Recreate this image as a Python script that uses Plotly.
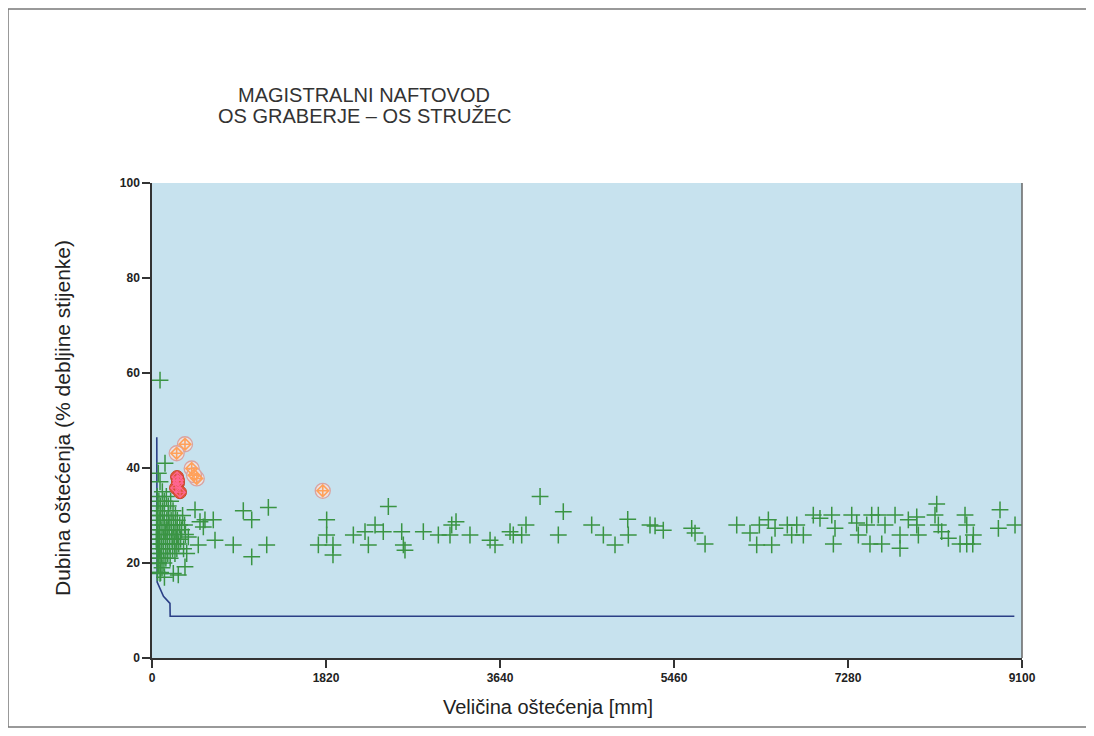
import plotly.graph_objects as go

# ---------------- data ----------------
x_ticks = [0, 1820, 3640, 5460, 7280, 9100]
y_ticks = [0, 20, 40, 60, 80, 100]

# acceptance curve (mm, % wall thickness)
curve_x = [50, 52, 54, 120, 188, 190, 9020]
curve_y = [46.5, 30, 16, 13, 11.5, 8.8, 8.8]

# green crosses - dense cluster near origin
cluster_x = [55, 60, 62, 65, 68, 70, 72, 75, 78, 80, 85, 88, 90, 95, 98, 100, 105, 108, 110, 115,
             118, 120, 125, 128, 130, 135, 140, 142, 145, 150, 155, 158, 160, 165, 170, 175, 178, 182,
             185, 190, 195, 200, 205, 210, 215, 220, 225, 230, 235, 240, 245, 250, 255, 260, 265, 270,
             280, 290, 300, 310, 320, 330, 340, 350, 50, 52, 55, 58, 48, 45, 90, 130]
cluster_y = [34, 31, 28, 25, 22, 20, 33, 29, 26, 23, 21, 32, 30, 27, 24, 22, 19, 35, 31, 28,
             25, 23, 20, 33, 30, 27, 26, 24, 21, 34, 29, 27, 25, 22, 32, 30, 28, 26,
             24, 21, 33, 29, 27, 25, 23, 31, 28, 26, 24, 22, 30, 27, 25, 23, 29, 26,
             24, 28, 25, 27, 30, 23, 28, 26, 27, 24, 21, 18, 30, 25, 18, 17]

# green crosses - scattered points
scatter_x = [84, 136, 66, 84, 1217, 955, 1043, 641, 554, 659, 850, 1200, 1043, 1827, 1827, 1740,
             450, 502, 537, 484, 380, 363, 345, 275, 223, 84, 66,
             2472, 4059, 4302, 1893, 1893, 2106, 2228, 2333, 2419, 2263, 2612, 2629, 2646, 2838,
             2995, 3117, 3135, 3180, 3326, 3536, 3588, 3745, 3779, 3867, 3912, 4250, 4599, 4721,
             4843, 4976, 4982, 5209, 5262, 5348, 5645, 5680, 5785, 6116, 6255, 6353, 6447, 6517,
             6325, 6482, 6645, 6744, 6691, 6813, 6917, 6987, 7110, 7144, 7127, 7319, 7371, 7388,
             7476, 7528, 7597, 7667, 7510, 7633, 7772, 7824, 7824, 7911, 7999, 7999, 8016, 8208,
             8190, 8225, 8260, 8330, 8504, 8522, 8591, 8452, 8522, 8585, 8870, 8853, 9027]
scatter_y = [58.5, 41.0, 38.9, 37.1, 31.7, 31.0, 29.1, 29.1, 29.1, 24.8, 23.8, 23.8, 21.3, 29.1, 25.9, 23.8,
             31.2, 28.7, 27.6, 23.8, 25.5, 22.0, 19.2, 17.5, 17.8, 17.8, 19.9,
             31.9, 34.0, 30.8, 23.8, 21.7, 25.9, 26.6, 28.0, 26.6, 23.8, 26.6, 23.8, 22.7, 26.6,
             25.9, 25.9, 28.0, 28.7, 25.9, 24.8, 23.8, 26.6, 25.9, 25.9, 28.0, 25.9, 28.0, 25.9,
             23.8, 29.2, 25.9, 28.0, 27.8, 26.9, 27.3, 26.3, 24.0, 28.0, 26.3, 28.0, 29.1, 27.3,
             23.8, 23.8, 28.0, 28.0, 25.9, 25.9, 30.1, 29.4, 30.1, 27.3, 24.0, 30.1, 28.4, 25.9,
             28.0, 30.1, 30.1, 28.0, 24.0, 24.0, 30.1, 25.9, 23.1, 29.1, 29.7, 28.0, 25.9, 32.4,
             30.1, 28.0, 26.6, 25.2, 30.1, 28.0, 25.9, 24.0, 24.0, 24.0, 31.2, 27.3, 28.0]

# red markers (outlined ones and filled ones)
red_open_x = [345, 258, 415, 468, 440, 1786]
red_open_y = [45.0, 43.1, 39.9, 37.8, 38.5, 35.2]
red_fill_x = [262, 272, 251, 293, 272]
red_fill_y = [38.1, 36.8, 35.8, 34.9, 37.4]

# ---------------- figure ----------------
OFF = 8                      # page body margin
W, H = 1094 - 2 * OFF, 736 - 2 * OFF
L, T = 152 - OFF, 183 - OFF  # plot area origin in figure coords
pw, ph = 870, 475
R, B = W - L - pw, H - T - ph


def px(xp):  # reference page x -> paper
    return (xp - 152) / pw


def py(yp):  # reference page y -> paper
    return (658 - yp) / ph


fig = go.Figure()

fig.add_trace(go.Scatter(
    x=curve_x, y=curve_y, mode="lines",
    line=dict(color="#2b3f86", width=1.6), hoverinfo="skip", showlegend=False))

green = "#3a9443"
cross = dict(symbol="cross-thin", size=12, line=dict(color=green, width=1.5))
fig.add_trace(go.Scatter(x=cluster_x, y=cluster_y, mode="markers", marker=cross, showlegend=False))
fig.add_trace(go.Scatter(x=scatter_x, y=scatter_y, mode="markers", marker=cross, showlegend=False))

fig.add_trace(go.Scatter(
    x=red_open_x, y=red_open_y, mode="markers",
    marker=dict(symbol="circle", size=15, color="rgba(240,228,228,0.85)",
                line=dict(color="#d9a3a0", width=1.3)),
    showlegend=False))
fig.add_trace(go.Scatter(
    x=red_open_x, y=red_open_y, mode="markers",
    marker=dict(symbol="diamond-cross-open", size=9, line=dict(color="#cc5a40", width=1.6)),
    showlegend=False))
fig.add_trace(go.Scatter(
    x=red_fill_x, y=red_fill_y, mode="markers",
    marker=dict(symbol="circle", size=13, color="#e0553a", line=dict(color="#c8452e", width=1)),
    showlegend=False))
fig.add_trace(go.Scatter(
    x=red_fill_x, y=red_fill_y, mode="markers",
    marker=dict(symbol="diamond-cross-open", size=8, line=dict(color="#b03c26", width=1.2)),
    showlegend=False))

tickfont = dict(family="Liberation Sans Narrow, Liberation Sans, Arial", size=12, color="#222")
txt = "Liberation Sans, Arial"

fig.update_layout(
    width=W, height=H,
    margin=dict(l=L, r=R, t=T, b=B),
    paper_bgcolor="white",
    plot_bgcolor="#c7e2ee",
    font=dict(family=txt, color="#222"),
    xaxis=dict(range=[0, 9100], tickvals=x_ticks, ticktext=[f"<b>{v}</b>" for v in x_ticks],
               showgrid=False, zeroline=False, showline=True, linecolor="#333", linewidth=1.5,
               ticks="outside", ticklen=8, tickwidth=1.5, tickcolor="#333", tickfont=tickfont),
    yaxis=dict(range=[0, 100], tickvals=y_ticks, ticktext=[f"<b>{v}</b>" for v in y_ticks],
               showgrid=False, zeroline=False, showline=True, linecolor="#333", linewidth=1.5,
               ticks="outside", ticklen=8, tickwidth=1.5, tickcolor="#333", tickfont=tickfont),
    annotations=[
        dict(text="MAGISTRALNI NAFTOVOD", xref="paper", yref="paper",
             x=px(364), y=py(95), showarrow=False, xanchor="center", yanchor="middle",
             font=dict(family=txt, size=20, color="#333")),
        dict(text="OS GRABERJE – OS STRUŽEC", xref="paper", yref="paper",
             x=px(364), y=py(116), showarrow=False, xanchor="center", yanchor="middle",
             font=dict(family=txt, size=20, color="#333")),
        dict(text="Dubina oštećenja (% debljine stijenke)", xref="paper", yref="paper",
             x=px(62), y=py(418), showarrow=False, textangle=-90, xanchor="center", yanchor="middle",
             font=dict(family=txt, size=21, color="#222")),
        dict(text="Veličina oštećenja [mm]", xref="paper", yref="paper",
             x=px(548), y=py(707), showarrow=False, xanchor="center", yanchor="middle",
             font=dict(family=txt, size=20, color="#222")),
    ],
    shapes=[
        dict(type="line", xref="paper", yref="paper", x0=1, x1=1, y0=0, y1=1,
             line=dict(color="#666", width=1.5)),
        dict(type="line", xref="paper", yref="paper", x0=px(8), x1=px(1110), y0=py(9), y1=py(9),
             line=dict(color="#777", width=1.5)),
        dict(type="line", xref="paper", yref="paper", x0=px(8), x1=px(8), y0=py(9), y1=py(727),
             line=dict(color="#777", width=1.5)),
        dict(type="line", xref="paper", yref="paper", x0=px(8), x1=px(1110), y0=py(727), y1=py(727),
             line=dict(color="#777", width=1.5)),
    ],
)

fig.write_html("out.html")
